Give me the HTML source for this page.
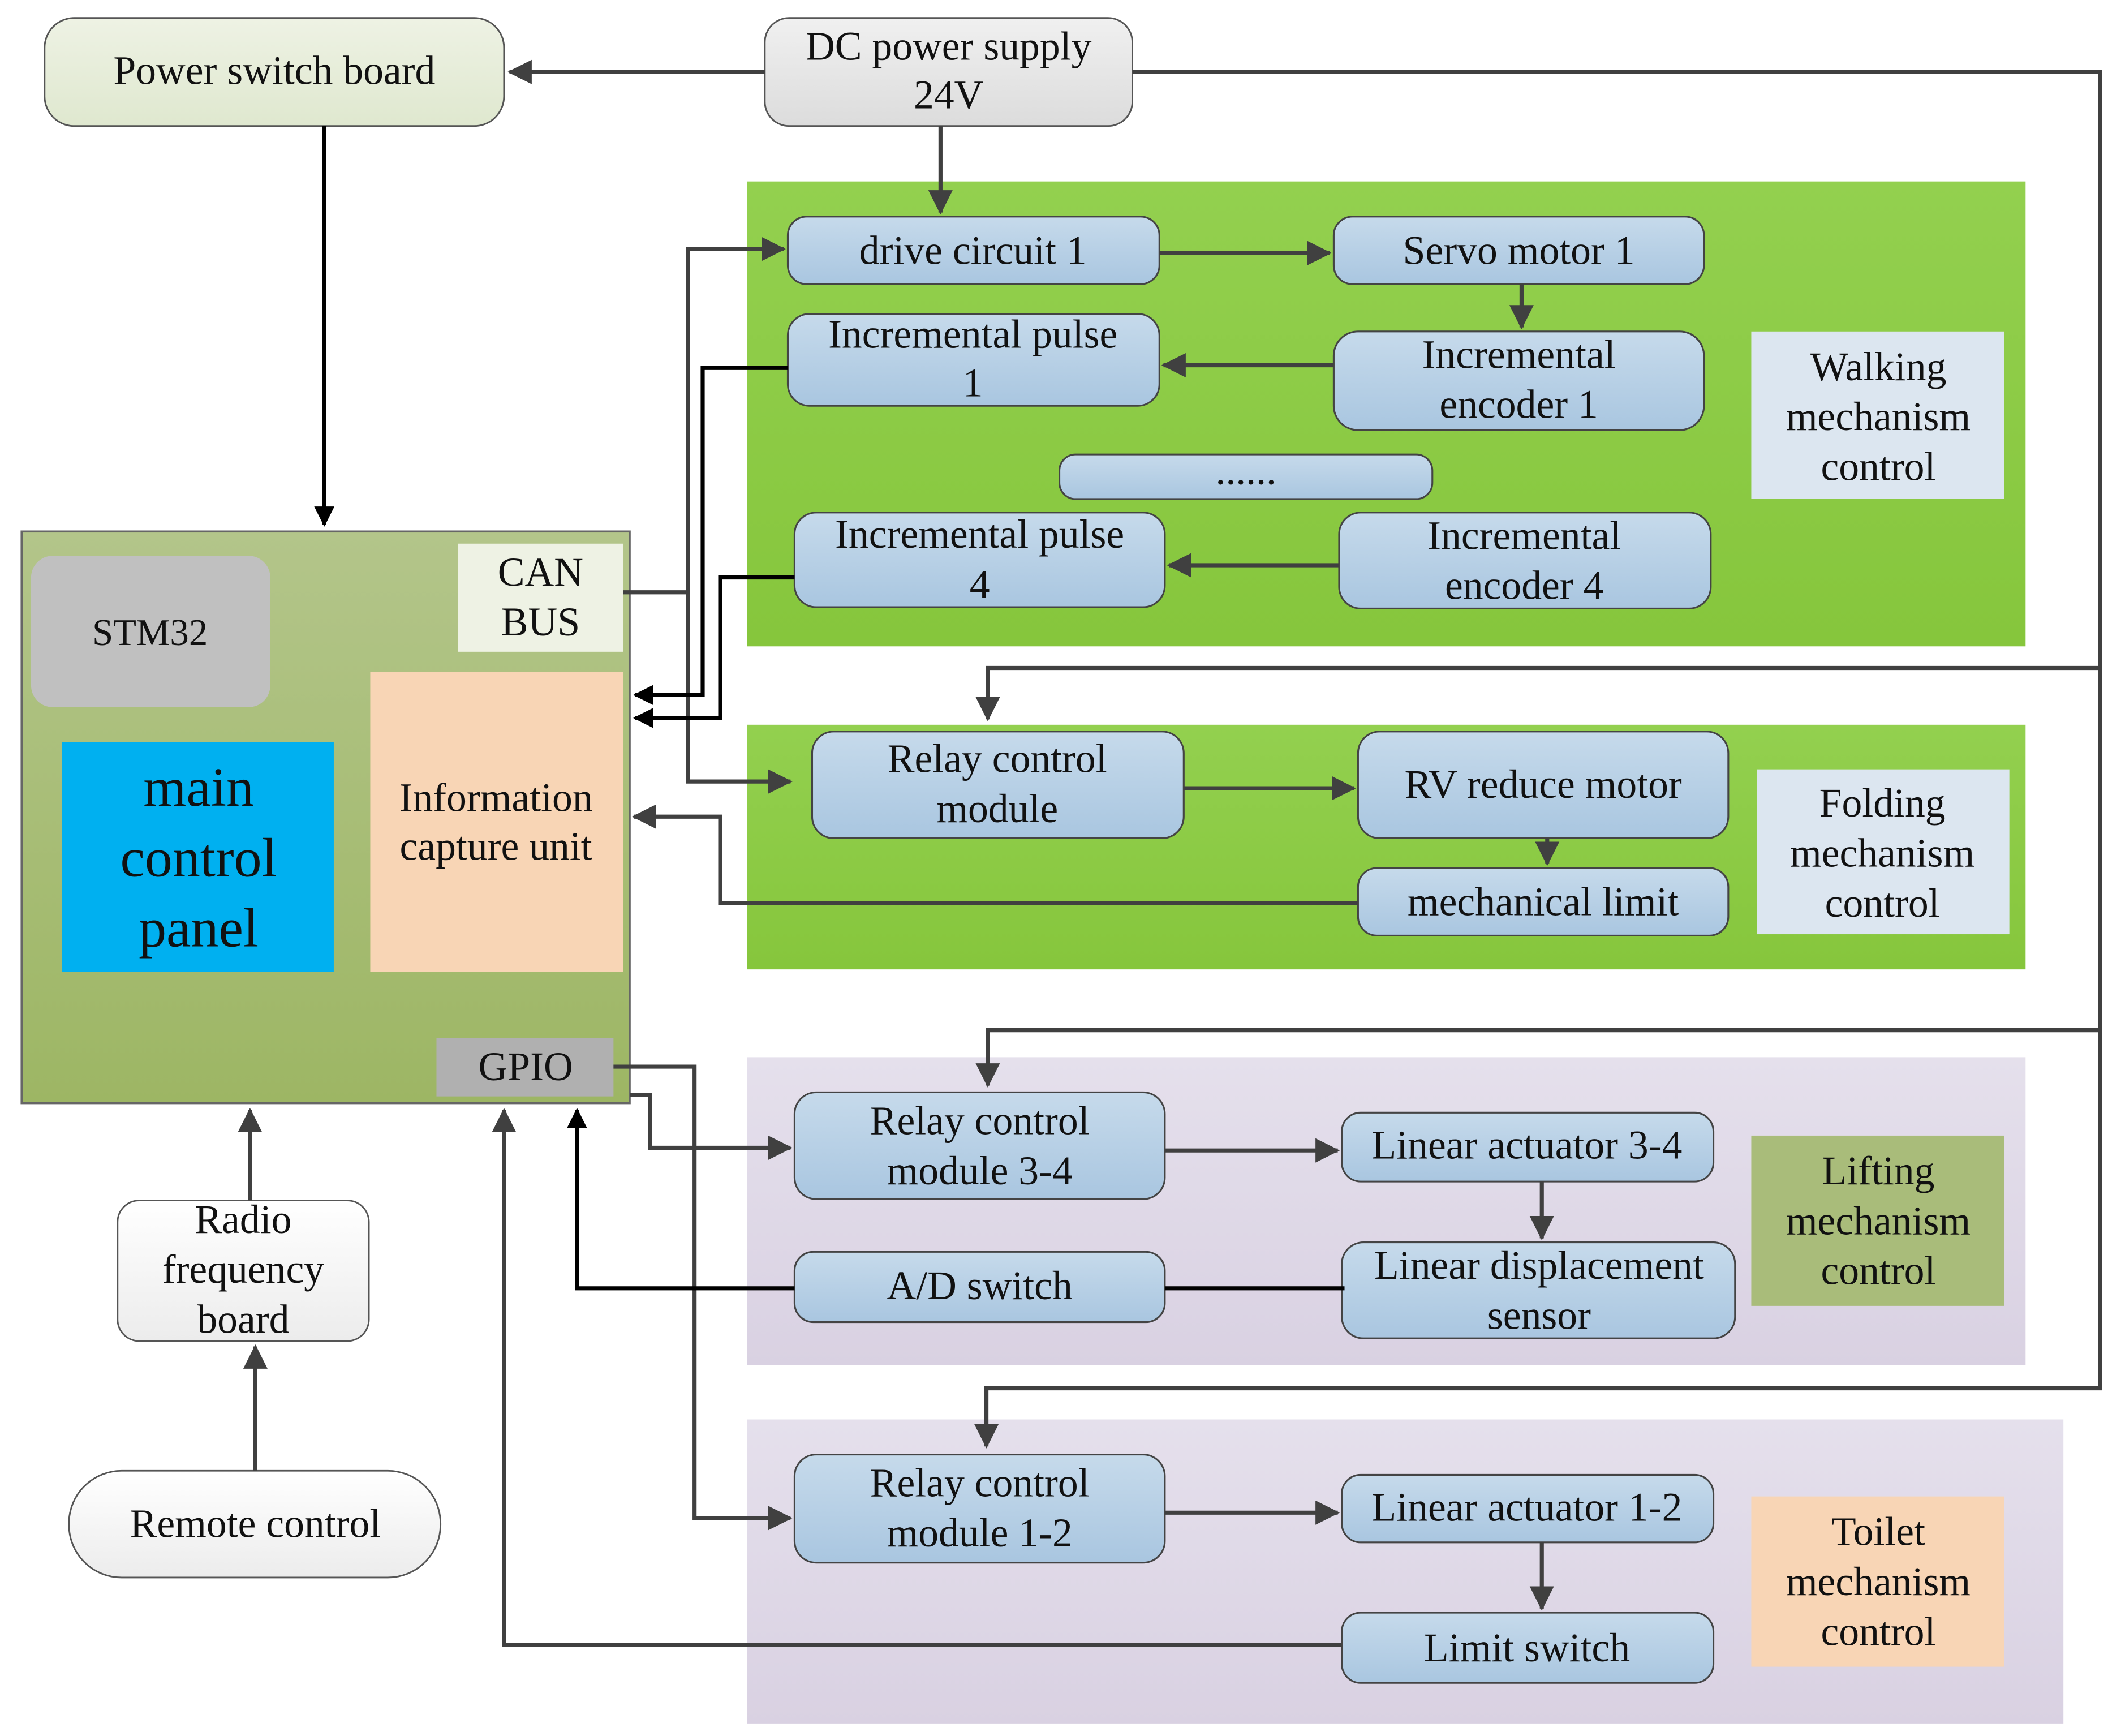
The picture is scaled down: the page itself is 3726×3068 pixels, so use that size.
<!DOCTYPE html>
<html><head><meta charset="utf-8"><style>
html,body{margin:0;padding:0;background:#fff;}
svg{display:block;}
text{font-family:"Liberation Serif",serif;fill:#111;text-anchor:middle;}
</style></head><body>
<svg width="3726" height="3068" viewBox="0 0 1560 1284" xmlns="http://www.w3.org/2000/svg">
<defs>
<marker id="a" markerWidth="6" markerHeight="6" refX="5.5" refY="3" orient="auto" markerUnits="strokeWidth"><path d="M0,0 L6,3 L0,6 z" fill="#404040"/></marker>
<marker id="b" markerWidth="5" markerHeight="5" refX="4.5" refY="2.5" orient="auto" markerUnits="strokeWidth"><path d="M0,0 L5,2.5 L0,5 z" fill="#000"/></marker>
<linearGradient id="nb" x1="0" y1="0" x2="0" y2="1"><stop offset="0" stop-color="#c6daeb"/><stop offset="1" stop-color="#a9c6e0"/></linearGradient>
<linearGradient id="gp" x1="0" y1="0" x2="0" y2="1"><stop offset="0" stop-color="#93d04f"/><stop offset="1" stop-color="#86c63c"/></linearGradient>
<linearGradient id="mb" x1="0" y1="0" x2="0" y2="1"><stop offset="0" stop-color="#b3c58a"/><stop offset="1" stop-color="#9db664"/></linearGradient>
<linearGradient id="pp" x1="0" y1="0" x2="0" y2="1"><stop offset="0" stop-color="#e5e0ec"/><stop offset="1" stop-color="#d9d1e2"/></linearGradient>
<linearGradient id="ps" x1="0" y1="0" x2="0" y2="1"><stop offset="0" stop-color="#eef2e4"/><stop offset="1" stop-color="#dfe8cf"/></linearGradient>
<linearGradient id="dc" x1="0" y1="0" x2="0" y2="1"><stop offset="0" stop-color="#f0f0f0"/><stop offset="1" stop-color="#dcdcdc"/></linearGradient>
<linearGradient id="wh" x1="0" y1="0" x2="0" y2="1"><stop offset="0" stop-color="#fff"/><stop offset="1" stop-color="#ececec"/></linearGradient>
</defs>

<rect x="553" y="134" width="946" height="344" fill="url(#gp)"/>
<rect x="553" y="536" width="946" height="181" fill="url(#gp)"/>
<rect x="553" y="782" width="946" height="228" fill="url(#pp)"/>
<rect x="553" y="1050" width="974" height="225" fill="url(#pp)"/>

<rect x="16" y="393" width="450" height="423" fill="url(#mb)" stroke="#666" stroke-width="1.5"/>
<rect x="23" y="411" width="177" height="112" rx="16" fill="#c0c0c0"/>
<text x="111" y="477" font-size="28">STM32</text>
<rect x="46" y="549" width="201" height="170" fill="#00b0f0"/>
<text x="147" y="596" font-size="41">main</text>
<text x="147" y="648" font-size="41">control</text>
<text x="147" y="700" font-size="41">panel</text>
<rect x="274" y="497" width="187" height="222" fill="#f8d5b5"/>
<text x="367" y="600" font-size="30">Information</text>
<text x="367" y="636" font-size="30">capture unit</text>
<rect x="339" y="402" width="122" height="80" fill="#eef2e4"/>
<text x="400" y="433" font-size="30">CAN</text>
<text x="400" y="470" font-size="30">BUS</text>
<rect x="323" y="768" width="131" height="43" fill="#b0b0b0"/>
<text x="389" y="799" font-size="30">GPIO</text>

<rect x="33" y="13" width="340" height="80" rx="22" fill="url(#ps)" stroke="#555" stroke-width="1.2"/>
<text x="203" y="62" font-size="30">Power switch board</text>
<rect x="566" y="13" width="272" height="80" rx="18" fill="url(#dc)" stroke="#555" stroke-width="1.2"/>
<text x="702" y="44" font-size="30">DC power supply</text>
<text x="702" y="80" font-size="30">24V</text>

<rect x="87" y="888" width="186" height="104" rx="16" fill="url(#wh)" stroke="#555" stroke-width="1.2"/>
<text x="180" y="912" font-size="30">Radio</text>
<text x="180" y="949" font-size="30">frequency</text>
<text x="180" y="986" font-size="30">board</text>
<rect x="51" y="1088" width="275" height="79" rx="39" fill="url(#wh)" stroke="#555" stroke-width="1.2"/>
<text x="189" y="1137" font-size="30">Remote control</text>

<g fill="url(#nb)" stroke="#444" stroke-width="1.3">
<rect x="583" y="160" width="275" height="50" rx="14"/>
<rect x="987" y="160" width="274" height="50" rx="14"/>
<rect x="583" y="232" width="275" height="68" rx="16"/>
<rect x="987" y="245" width="274" height="73" rx="18"/>
<rect x="784" y="336" width="276" height="33" rx="12"/>
<rect x="588" y="379" width="274" height="70" rx="16"/>
<rect x="991" y="379" width="275" height="71" rx="16"/>
<rect x="601" y="541" width="275" height="79" rx="16"/>
<rect x="1005" y="541" width="274" height="79" rx="16"/>
<rect x="1005" y="642" width="274" height="50" rx="14"/>
<rect x="588" y="808" width="274" height="79" rx="16"/>
<rect x="993" y="823" width="275" height="51" rx="14"/>
<rect x="588" y="926" width="274" height="52" rx="14"/>
<rect x="993" y="919" width="291" height="71" rx="16"/>
<rect x="588" y="1076" width="274" height="80" rx="16"/>
<rect x="993" y="1091" width="275" height="50" rx="14"/>
<rect x="993" y="1193" width="275" height="52" rx="14"/>
</g>
<g font-size="30">
<text x="720" y="195">drive circuit 1</text>
<text x="1124" y="195">Servo motor 1</text>
<text x="720" y="257">Incremental pulse</text>
<text x="720" y="293">1</text>
<text x="1124" y="272">Incremental</text>
<text x="1124" y="309">encoder 1</text>
<text x="922" y="358">......</text>
<text x="725" y="405">Incremental pulse</text>
<text x="725" y="442">4</text>
<text x="1128" y="406">Incremental</text>
<text x="1128" y="443">encoder 4</text>
<text x="738" y="571">Relay control</text>
<text x="738" y="608">module</text>
<text x="1142" y="590">RV reduce motor</text>
<text x="1142" y="677">mechanical limit</text>
<text x="725" y="839">Relay control</text>
<text x="725" y="876">module 3-4</text>
<text x="1130" y="857">Linear actuator 3-4</text>
<text x="725" y="961">A/D switch</text>
<text x="1139" y="946">Linear displacement</text>
<text x="1139" y="983">sensor</text>
<text x="725" y="1107">Relay control</text>
<text x="725" y="1144">module 1-2</text>
<text x="1130" y="1125">Linear actuator 1-2</text>
<text x="1130" y="1229">Limit switch</text>
</g>

<rect x="1296" y="245" width="187" height="124" fill="#dce6f0"/>
<text x="1390" y="281" font-size="30">Walking</text><text x="1390" y="318" font-size="30">mechanism</text><text x="1390" y="355" font-size="30">control</text>
<rect x="1300" y="569" width="187" height="122" fill="#dce6f0"/>
<text x="1393" y="604" font-size="30">Folding</text><text x="1393" y="641" font-size="30">mechanism</text><text x="1393" y="678" font-size="30">control</text>
<rect x="1296" y="840" width="187" height="126" fill="#a9bc7a"/>
<text x="1390" y="876" font-size="30">Lifting</text><text x="1390" y="913" font-size="30">mechanism</text><text x="1390" y="950" font-size="30">control</text>
<rect x="1296" y="1107" width="187" height="126" fill="#f8d5b5"/>
<text x="1390" y="1143" font-size="30">Toilet</text><text x="1390" y="1180" font-size="30">mechanism</text><text x="1390" y="1217" font-size="30">control</text>

<g stroke="#404040" stroke-width="3" fill="none">
<path d="M566,53 H377" marker-end="url(#a)"/>
<path d="M838,53 H1554 V1027 H730 V1070" marker-end="url(#a)"/>
<path d="M1554,494 H731 V532" marker-end="url(#a)"/>
<path d="M1554,762 H731 V803" marker-end="url(#a)"/>
<path d="M696,93 V157" marker-end="url(#a)"/>
<path d="M461,438 H509 V578 H585" marker-end="url(#a)"/>
<path d="M509,438 V184 H580" marker-end="url(#a)"/>
<path d="M858,187 H984" marker-end="url(#a)"/>
<path d="M1126,210 V242" marker-end="url(#a)"/>
<path d="M987,270 H861" marker-end="url(#a)"/>
<path d="M991,418 H865" marker-end="url(#a)"/>
<path d="M876,583 H1002" marker-end="url(#a)"/>
<path d="M1145,620 V639" marker-end="url(#a)"/>
<path d="M1005,668 H533 V604 H469" marker-end="url(#a)"/>
<path d="M862,851 H990" marker-end="url(#a)"/>
<path d="M1141,874 V916" marker-end="url(#a)"/>
<path d="M862,1119 H990" marker-end="url(#a)"/>
<path d="M1141,1141 V1190" marker-end="url(#a)"/>
<path d="M185,888 V821" marker-end="url(#a)"/>
<path d="M189,1088 V996" marker-end="url(#a)"/>
<path d="M993,1217 H373 V821" marker-end="url(#a)"/>
<path d="M454,789 H514 V1123 H585" marker-end="url(#a)"/>
<path d="M466,810 H481 V849 H585" marker-end="url(#a)"/>
</g>
<g stroke="#000" stroke-width="3" fill="none">
<path d="M240,93 V388" marker-end="url(#b)"/>
<path d="M583,272 H520 V514 H470" marker-end="url(#b)"/>
<path d="M588,427 H533 V531 H470" marker-end="url(#b)"/>
<path d="M588,953 H427 V821" marker-end="url(#b)"/>
<path d="M862,953 H995"/>
</g>
</svg>
</body></html>
